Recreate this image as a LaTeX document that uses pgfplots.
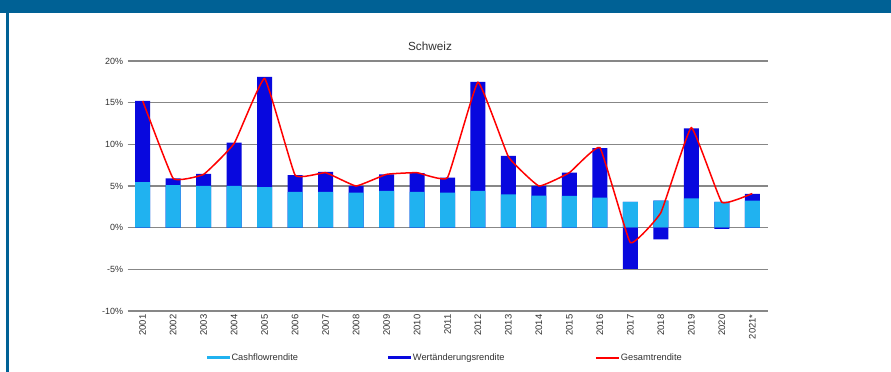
\documentclass[border=0pt]{standalone}
\usepackage{pgfplots}
\pgfplotsset{compat=1.18}
\usepackage{pgfplotstable}
\usepackage{fontspec}
\setmainfont{Liberation Sans}
\definecolor{headerblue}{RGB}{0,97,149}
\definecolor{cashblue}{RGB}{32,178,240}
\definecolor{wertblue}{RGB}{8,8,222}
\definecolor{gridgray}{RGB}{135,135,135}
\definecolor{txt}{RGB}{50,50,50}

% idx cash wert gesamt
\pgfplotstableread{
idx cash wert gesamt
0  5.45  9.75 15.2
1  5.10  0.80 5.9
2  5.00  1.45 6.4
3  5.00  5.20 10.1
4  4.85 13.25 17.9
5  4.30  2.00 6.3
6  4.30  2.40 6.6
7  4.20  0.80 5.0
8  4.40  2.00 6.4
9  4.30  2.25 6.6
10 4.20  1.80 6.0
11 4.40 13.10 17.45
12 4.00  4.60 8.5
13 3.85  1.15 5.0
14 3.80  2.80 6.6
15 3.60  5.95 9.6
16 3.10 -4.95 -1.8
17 3.25 -1.40 1.8
18 3.50  8.40 12.0
19 3.10 -0.15 3.05
20 3.25  0.80 4.1
}\data

\begin{document}
\begin{tikzpicture}
\useasboundingbox (0,0) rectangle (891bp,372bp);
\fill[white] (0,0) rectangle (891bp,372bp);
\fill[headerblue] (0,359bp) rectangle (891bp,372bp);
\fill[headerblue] (6bp,0) rectangle (8.5bp,359bp);
\node[txt, font=\fontsize{11.8}{14}\selectfont] at (430bp,326bp) {Schweiz};
\begin{axis}[
  at={(127.5bp,61bp)}, anchor=south west,
  scale only axis, width=640bp, height=250bp,
  xmin=-0.5, xmax=20.5, ymin=-10, ymax=20,
  ytick={-10,-5,0,5,10,15,20},
  yticklabel={\pgfmathprintnumber[assume math mode=true]{\tick}\%},
  y tick label style={font=\fontsize{9}{10}\selectfont, text=txt, xshift=-1bp},
  xtick={0,...,20},
  xticklabels={2001,2002,2003,2004,2005,2006,2007,2008,2009,2010,2011,2012,2013,2014,2015,2016,2017,2018,2019,2020,2021*},
  x tick label style={rotate=90, anchor=east, font=\fontsize{9.5}{10}\selectfont, text=txt},
  axis line style={draw=none},
  major tick style={draw=none},
  ymajorgrids,
  major grid style={gridgray, line width=1.1bp},
  legend columns=3,
  legend style={at={(0.124,-0.187)}, anchor=west, draw=none, fill=none,
    inner sep=0pt, font=\fontsize{9.3}{10}\selectfont, text=txt,
    /tikz/every even column/.append style={column sep=89bp},
    nodes={inner sep=1.5bp}},
  legend cell align=left,
]
\addplot[ybar, bar width=15bp, bar shift=0pt, fill=wertblue, draw=none, forget plot]
  table[x=idx, y expr={\thisrow{cash}+max(\thisrow{wert},0)}] {\data};
\addplot[ybar, bar width=15bp, bar shift=0pt, fill=cashblue, draw=none,
  legend image code/.code={\fill[cashblue] (0bp,-1.6bp) rectangle (23bp,1.6bp);}]
  table[x=idx, y=cash] {\data};
\addlegendentry{Cashflowrendite}
\addplot[ybar, bar width=15bp, bar shift=0pt, fill=wertblue, draw=none,
  legend image code/.code={\fill[wertblue] (0bp,-1.6bp) rectangle (23bp,1.6bp);}]
  table[x=idx, y expr={min(\thisrow{wert},0)}] {\data};
\addlegendentry{Wertänderungsrendite}
\addplot[red, line width=1.5bp, smooth, tension=0.18, mark=none,
  legend image code/.code={\draw[red, line width=1.5bp] (0bp,0bp) -- (23bp,0bp);}]
  table[x=idx, y=gesamt] {\data};
\addlegendentry{Gesamtrendite}
\end{axis}
\end{tikzpicture}
\end{document}
